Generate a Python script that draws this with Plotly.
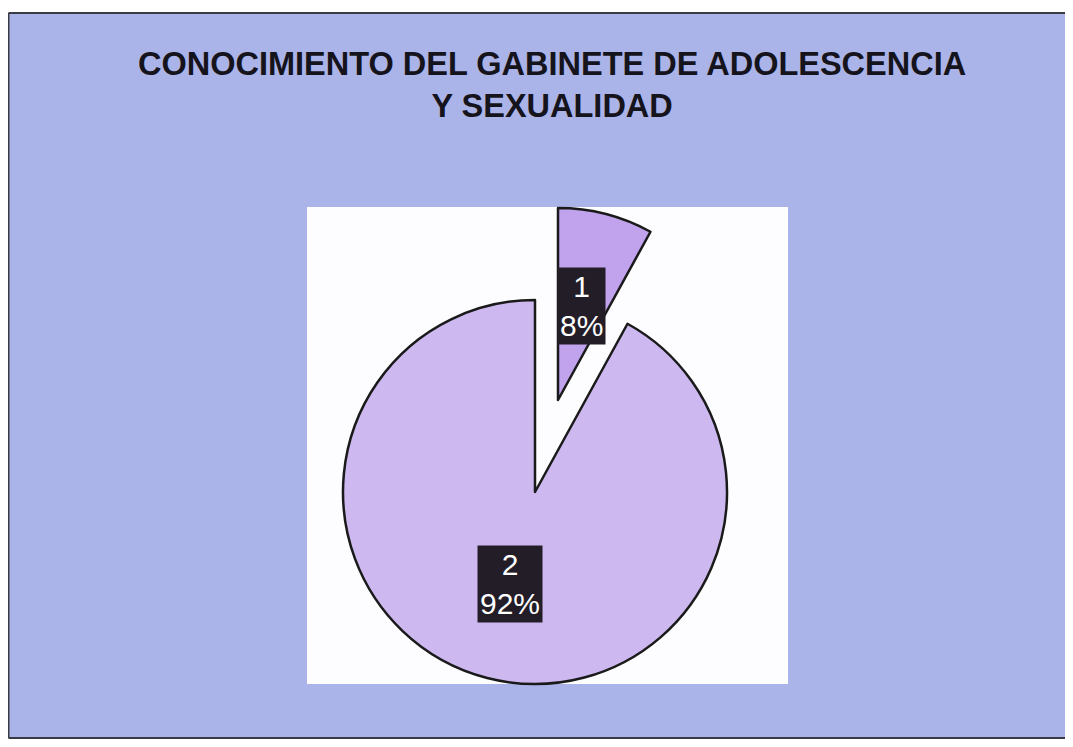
import plotly.graph_objects as go

# ---- data ----
labels = ["1", "2"]
values = [8, 92]
title_lines = ["CONOCIMIENTO DEL GABINETE DE ADOLESCENCIA", "Y SEXUALIDAD"]

# page has an 8px body margin; figure fills the rest of the 1073x747 window
OFF = 8
W, H = 1073 - 2 * OFF, 747 - 2 * OFF

def px(x):
    return (x - OFF) / W

def py(y):
    return 1 - (y - OFF) / H

BG = "#abb4e9"
SLICE1 = "#c0a3ec"
SLICE2 = "#cdb9f0"
CLEAR = "rgba(0,0,0,0)"
EDGE = "#1a1a1a"
FRAME = "#3a3a44"
R = 192

def dom(cx, cy):
    return dict(x=[px(cx - R), px(cx + R)], y=[py(cy + R), py(cy - R)])

fig = go.Figure()

# exploded slice (label 1)
fig.add_trace(go.Pie(
    labels=labels, values=values, sort=False, direction="clockwise", rotation=0,
    textinfo="none", hoverinfo="label+percent", showlegend=False,
    marker=dict(colors=[SLICE1, CLEAR], line=dict(color=[EDGE, CLEAR], width=[2.5, 0])),
    domain=dom(558, 400),
))
# main slice (label 2)
fig.add_trace(go.Pie(
    labels=labels, values=values, sort=False, direction="clockwise", rotation=0,
    textinfo="none", hoverinfo="label+percent", showlegend=False,
    marker=dict(colors=[CLEAR, SLICE2], line=dict(color=[CLEAR, EDGE], width=[0, 2.5])),
    domain=dom(535, 492),
))

total = sum(values)
pcts = [round(v / total * 100) for v in values]
label_pos = [(581, 306), (510, 584)]
annotations = []
for lab, p, (x, y) in zip(labels, pcts, label_pos):
    annotations.append(dict(
        text=f"{lab}<br>{p}%", x=px(x), y=py(y), xref="paper", yref="paper",
        xanchor="center", yanchor="middle", showarrow=False,
        font=dict(family="Arial, Liberation Sans, sans-serif", size=30, color="white"),
        bgcolor="#231d28", borderpad=2,
    ))

annotations.append(dict(
    text="<b>" + "<br>".join(title_lines) + "</b>",
    x=px(552), y=py(85), xref="paper", yref="paper",
    xanchor="center", yanchor="middle", showarrow=False,
    font=dict(family="Arial, Liberation Sans, sans-serif", size=32.5, color="#15131c"),
))

shapes = [
    dict(type="rect", xref="paper", yref="paper", x0=px(8.5), x1=1.05, y0=py(738), y1=py(13),
         fillcolor=BG, line=dict(width=0), layer="below"),
    dict(type="line", xref="paper", yref="paper", x0=px(8.5), x1=1.05, y0=py(13), y1=py(13),
         line=dict(color=FRAME, width=2), layer="below"),
    dict(type="line", xref="paper", yref="paper", x0=px(8.5), x1=px(8.5), y0=py(738), y1=py(13),
         line=dict(color=FRAME, width=2), layer="below"),
    dict(type="line", xref="paper", yref="paper", x0=px(8.5), x1=1.05, y0=py(738), y1=py(738),
         line=dict(color=FRAME, width=2), layer="below"),
    dict(type="rect", xref="paper", yref="paper", x0=px(307), x1=px(788), y0=py(684), y1=py(207),
         fillcolor="#fdfdff", line=dict(width=0), layer="below"),
]

fig.update_layout(
    width=W, height=H, margin=dict(l=0, r=0, t=0, b=0),
    paper_bgcolor="white", plot_bgcolor="white",
    shapes=shapes, annotations=annotations, showlegend=False,
)

fig.write_html("out.html")
